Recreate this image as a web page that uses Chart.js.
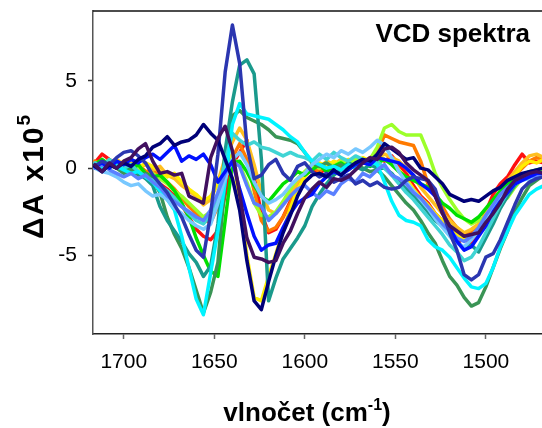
<!DOCTYPE html>
<html>
<head>
<meta charset="utf-8">
<script src="https://cdn.jsdelivr.net/npm/chart.js@4.4.1/dist/chart.umd.min.js"></script>
<style>
  body { margin: 0; background: #fff; }
  canvas { display: block; }
</style>
</head>
<body>
<canvas id="vcd" width="542" height="428"></canvas>
<script>
// wavenumber grid (cm-1), same for every spectrum
const wavenumbers = [
  1716, 1712, 1708, 1704, 1700, 1696, 1692, 1688, 1684, 1680,
  1676, 1672, 1668, 1664, 1660, 1656, 1652, 1648, 1644, 1640,
  1636, 1632, 1628, 1624, 1620, 1616, 1612, 1608, 1604, 1600,
  1596, 1592, 1588, 1584, 1580, 1576, 1572, 1568, 1564, 1560,
  1556, 1552, 1548, 1544, 1540, 1536, 1532, 1528, 1524, 1520,
  1516, 1512, 1508, 1504, 1500, 1496, 1492, 1488, 1484, 1480,
  1476, 1472, 1468
];

const xTickValues = [1700, 1650, 1600, 1550, 1500];
const yTickValues = [-5, 0, 5];

// dA x 10^5
const spPurple = [
  0.2, -0.2, 0.3, 0.0, 0.4, 0.6, 1.1, 1.4, 0.4, -0.3,
  -0.2, -0.4, -0.3, -1.6, -1.8, -2.0, 0.6, 1.7, 2.4, 1.0,
  -1.5, -4.0, -5.1, -5.2, -5.4, -5.3, -4.3, -3.6, -2.6, -1.7,
  -1.2, -0.8, -1.1, -0.6, -0.7, -0.5, -0.1, 0.3, 0.6, 0.5,
  1.1, 1.2, 0.9, 0.3, -0.1, -0.4, -0.7, -1.6, -2.6, -3.3,
  -3.6, -3.9, -3.8, -3.7, -3.1, -2.6, -2.0, -1.2, -0.7, -0.5,
  -0.3, -0.2, -0.3
];
const spNavy = [
  0.1, -0.2, 0.2, 0.0, 0.3, 0.1, 0.5, 0.7, 1.2, 1.4,
  1.8, 1.3, 1.5, 1.6, 1.9, 2.5, 2.0, 1.6, 0.5, -0.6,
  -2.4, -5.3, -7.6, -8.1, -6.5, -5.0, -3.7, -2.7, -1.6, -0.8,
  -0.4, -0.3, -0.5, -0.1, -0.4, 0.0, 0.3, 0.5, 0.4, 0.8,
  1.4, 1.1, 0.8, 0.5, 0.6, 0.0, -0.1, -0.5, -0.9, -1.5,
  -1.7, -1.9, -1.8, -1.9, -1.6, -1.3, -1.1, -0.7, -0.5, -0.3,
  -0.2, -0.1, 0.0
];
const spMidBlue = [
  0.1, 0.4, 0.2, 0.6, 0.9, 1.0, 0.7, 0.3, -0.4, -0.9,
  -1.4, -2.1, -2.8, -3.8, -4.7, -5.1, -2.6, 0.8, 5.5, 8.2,
  6.0, 1.3, -0.6, -0.4, 0.2, 0.5, -0.3, -0.7, 0.1, 0.3,
  -0.2, -0.5, -0.3, -0.8, -0.6, -0.4, -0.9, -0.7, -1.0, -0.8,
  -1.1, -1.2, -1.1, -0.7, -0.5, -0.6, -0.7, -1.2, -2.5, -3.7,
  -4.7, -6.1, -6.4, -6.1, -5.1, -4.9, -4.1, -3.1, -2.1, -1.2,
  -0.8, -0.6, -0.5
];
const spBlue = [
  0.1, 0.3, 0.0, 0.4, 0.2, 0.5, 0.3, 0.6, 0.8, 0.5,
  0.9, 1.3, 0.4, 0.7, 0.5, 0.8, 0.2, -0.8, -0.2, 0.4,
  -1.2, -2.6, -3.9, -4.7, -4.4, -4.3, -3.4, -2.6, -2.0, -1.7,
  -1.5, -0.9, -0.5, -0.2, -0.4, -0.1, 0.2, 0.3, 0.2, 0.6,
  0.5, 0.4, 0.3, 0.0, -0.4, -0.9, -1.2, -1.6, -2.5, -3.4,
  -4.2, -4.7, -4.5, -3.9, -3.3, -2.5, -1.9, -1.4, -0.9, -0.7,
  -0.5, -0.3, -0.3
];
const spCornflower = [
  0.0, 0.2, -0.1, -0.3, -0.5, -0.3, -0.6, -0.4, -0.8, -1.1,
  -1.6, -1.9, -2.2, -2.5, -2.8, -3.0, -2.4, -1.4, -0.3, 0.4,
  0.1, -1.0, -2.0, -2.2, -3.0, -2.6, -2.1, -1.6, -1.2, -1.0,
  -1.4, -1.7, -1.3, -1.5, -0.9, -0.6, -0.8, -0.3, -0.5, -0.1,
  0.2, -0.4, -0.6, -0.9, -1.4, -1.7, -2.2, -2.7, -3.2, -3.6,
  -4.0, -4.2, -3.9, -3.4, -2.7, -2.1, -1.5, -1.1, -0.8, -0.6,
  -0.4, -0.5, -0.3
];
const spSky = [
  0.0, -0.2, -0.3, -0.5, -0.8, -1.0, -0.9, -1.3, -1.6, -1.5,
  -1.8, -2.3, -2.6, -3.0, -3.3, -3.5, -3.2, -2.0, -0.6, 0.5,
  0.9, 0.2, -0.8, -1.6, -2.0, -1.8, -1.5, -1.0, -0.6, -0.3,
  0.2, 0.5, 0.8, 0.6, 1.0, 0.8, 1.1, 0.9, 1.2, 1.6,
  1.3, 0.6, -0.2, -0.8, -1.3, -1.8, -2.3, -2.9, -3.4, -3.9,
  -4.3, -4.5, -4.1, -3.6, -2.9, -2.2, -1.6, -1.2, -0.9, -0.7,
  -0.6, -0.4, -0.5
];
const spCyan = [
  0.2, 0.0, 0.3, 0.1, -0.1, -0.3, -0.2, -0.5, -0.8, -1.3,
  -1.8, -2.4, -3.9, -5.7, -7.5, -8.4, -6.0, -3.6, -0.8, 2.5,
  3.7, 3.1, 3.0, 2.9, 2.8, 2.5, 2.2, 1.8, 1.5, 0.9,
  0.4, 0.2, 0.0, 0.1, -0.1, 0.2, 0.0, 0.3, 0.4, 0.2,
  -0.8, -1.9, -2.7, -3.0, -3.1, -3.3, -4.1, -4.5, -4.7, -5.1,
  -5.7, -6.3, -6.8, -6.9, -6.6, -5.7, -4.5, -3.6, -2.7, -2.1,
  -1.5, -1.2, -1.0
];
const spTurquoise = [
  0.3, 0.1, 0.5, 0.2, 0.0, 0.2, -0.2, -0.5, -0.7, -1.0,
  -1.3, -1.7, -2.2, -2.6, -3.0, -3.2, -2.7, -1.5, 0.4, 2.0,
  1.6, 1.3, 1.5, 1.2, 1.1, 0.9, 0.7, 0.9, 0.7, 0.6,
  0.4, 0.8, 0.5, 0.9, 0.6, 0.4, 0.7, 0.5, 0.2, 0.4,
  0.0, -0.4, -0.9, -1.4, -1.8, -2.3, -2.8, -3.3, -3.8, -4.4,
  -4.8, -5.3, -5.1, -4.5, -3.7, -2.9, -2.1, -1.4, -0.9, -0.6,
  -0.5, -0.4, -0.3
];
const spTeal = [
  0.2, 0.0, 0.4, 0.2, -0.1, 0.2, -0.3, -0.6, -1.0, -2.2,
  -3.0, -3.6, -4.2, -4.9, -5.4, -6.2, -5.6, -3.2, 1.0, 3.8,
  5.9, 6.2, 5.4, 0.5, -7.6, -6.3, -5.2, -4.6, -4.0, -3.3,
  -2.2, -1.5, -0.9, -0.4, -0.1, 0.3, 0.1, -0.1, 0.2, 0.0,
  0.0, -0.3, -0.8, -1.2, -1.6, -2.0, -2.5, -3.0, -3.3, -3.8,
  -4.2, -4.6, -4.4, -4.8, -4.0, -3.2, -2.3, -1.6, -1.0, -0.6,
  -0.4, -0.2, -0.3
];
const spSeaGreen = [
  0.1, -0.2, 0.2, 0.0, -0.3, -0.1, -0.4, -0.3, -0.7, -1.4,
  -2.8, -3.8, -4.6, -5.7, -7.0, -8.3, -7.1, -5.4, -0.8, 3.0,
  3.3, 2.9, 2.7, 2.5, 2.2, 1.8, 1.7, 1.6, 1.4, 0.9,
  0.3, 0.1, 0.3, 0.0, 0.2, -0.1, 0.2, 0.0, -0.2, -0.1,
  -0.5, -1.0, -1.5, -2.0, -2.4, -3.0, -3.7, -4.3, -5.3, -6.2,
  -6.7, -7.4, -7.9, -7.7, -6.8, -5.7, -4.6, -3.6, -2.5, -1.7,
  -1.0, -0.7, -0.4
];
const spGreen = [
  0.2, 0.5, 0.2, 0.4, 0.1, -0.1, 0.2, -0.3, -0.5, -0.4,
  -0.8, -1.3, -2.0, -2.8, -4.0, -5.0, -5.9, -6.2, -3.0, 0.3,
  0.4, -0.2, -1.0, -1.6, -1.9, -1.4, -0.9, -0.6, -0.2, -0.4,
  -0.1, 0.2, -0.2, 0.1, 0.3, 0.0, 0.2, 0.4, 0.1, 0.3,
  0.5, 0.2, -0.2, -0.5, -0.7, -0.9, -1.1, -1.5, -2.0, -2.3,
  -2.7, -2.9, -3.1, -2.8, -2.3, -1.8, -1.3, -0.9, -0.6, -0.4,
  -0.2, -0.1, 0.0
];
const spChartreuse = [
  0.1, 0.3, 0.0, 0.3, 0.1, -0.2, 0.1, -0.4, -0.3, -0.6,
  -0.9, -1.3, -1.6, -2.0, -2.4, -2.8, -2.5, -1.7, -0.4, 0.6,
  0.2, -0.8, -2.0, -2.7, -2.8, -2.5, -1.9, -1.2, -0.6, -0.2,
  0.2, 0.0, 0.3, 0.1, 0.4, 0.2, 0.5, 0.4, 0.5, 1.2,
  2.3, 2.5, 2.1, 1.9, 1.9, 1.9, 0.9, -0.3, -1.1, -1.8,
  -2.4, -2.9, -3.2, -3.0, -2.8, -2.4, -2.0, -1.7, -1.1, -0.6,
  -0.3, -0.2, 0.0
];
const spYellow = [
  0.2, 0.0, 0.3, 0.1, 0.4, 0.2, 0.0, 0.3, 0.1, -0.2,
  -0.5, -0.3, -0.8, -1.2, -1.5, -1.9, -1.6, -0.9, 0.2, 0.8,
  -1.8, -5.0, -7.4, -7.6, -6.2, -4.9, -3.6, -2.3, -1.2, -0.5,
  0.0, 0.3, 0.1, 0.4, 0.2, 0.5, 0.3, 0.6, 0.4, 0.7,
  0.5, 0.3, -0.1, -0.6, -1.2, -1.7, -2.1, -2.6, -3.0, -3.4,
  -3.8, -4.1, -3.9, -3.5, -2.9, -2.2, -1.6, -1.0, -0.4, 0.1,
  0.4, 0.3, 0.5
];
const spGold = [
  0.1, 0.4, 0.2, 0.5, 0.2, 0.3, 0.0, 0.2, -0.1, 0.1,
  -0.4, -0.6, -1.0, -1.3, -1.6, -2.1, -1.8, -0.8, 0.6, 1.5,
  2.3, 1.6, 0.2, -1.4, -2.4, -2.6, -2.1, -1.5, -0.8, -0.3,
  0.2, 0.0, 0.4, 0.2, 0.5, 0.3, 0.6, 0.4, 0.3, 0.6,
  0.8, 0.6, 0.4, 0.0, -0.5, -1.1, -1.6, -2.1, -2.6, -3.0,
  -3.4, -3.7, -3.5, -3.2, -2.6, -2.0, -1.3, -0.7, -0.2, 0.3,
  0.7, 0.8, 0.6
];
const spOrange = [
  0.4, 0.2, 0.5, 0.1, 0.3, 0.0, 0.2, -0.2, -0.1, -0.5,
  -0.8, -1.2, -1.7, -2.2, -2.6, -3.0, -3.1, -2.2, -0.5, 0.6,
  1.4, 0.5, -1.3, -3.0, -3.6, -3.4, -2.8, -2.0, -1.1, -0.4,
  0.1, -0.2, 0.2, 0.0, 0.3, 0.1, 0.4, 0.3, 0.6, 0.9,
  1.9, 1.7, 1.5, 1.4, 1.3, 0.4, -0.9, -1.6, -2.2, -2.9,
  -3.4, -3.8, -3.7, -3.4, -2.7, -2.0, -1.4, -0.9, -0.4, 0.0,
  0.4, 0.6, 0.5
];
const spRed = [
  0.3, 0.8, 0.5, 0.2, 0.3, 0.1, 0.2, -0.2, -0.5, -0.9,
  -1.2, -1.6, -2.1, -2.8, -3.5, -3.9, -4.1, -3.6, -1.5, 0.2,
  0.9, 1.6, -0.5, -2.6, -3.7, -3.5, -2.8, -1.9, -1.0, -0.4,
  -0.1, -0.3, 0.0, 0.2, 0.1, 0.4, 0.2, 0.5, 0.3, 0.6,
  0.4, 0.7, 0.2, -0.3, -1.0, -1.6, -2.0, -2.6, -3.0, -3.5,
  -4.3, -4.0, -4.4, -3.5, -2.5, -1.5, -0.9, -0.5, 0.2, 0.8,
  0.3, 0.4, 0.3
];

// first listed is drawn on top
const spectra = [spPurple, spNavy, spMidBlue, spBlue, spCornflower, spSky, spCyan, spTurquoise,
  spTeal, spSeaGreen, spGreen, spChartreuse, spYellow, spGold, spOrange, spRed];
const lineColors = ['#41105f', '#000078', '#2b36b0', '#0010ff', '#5a80ff', '#78c8ff', '#00f4ff', '#40d4d4',
  '#1a9a8c', '#3a9455', '#00e000', '#9cff2a', '#ffee00', '#ffbf20', '#ff7a00', '#ff1010'];

const panelTitle = 'VCD spektra';
const xTitle = ['vlnočet (cm', '-1', ')'];
const yTitle = ['ΔA x10', '5', ''];

const FONT = '"Liberation Sans", Arial, sans-serif';
Chart.defaults.font.family = FONT;
Chart.defaults.color = '#000';

function drawSupText(ctx, parts, cx, y, size, supSize, rise) {
  ctx.font = 'bold ' + size + 'px ' + FONT;
  const w0 = ctx.measureText(parts[0]).width;
  const w2 = ctx.measureText(parts[2]).width;
  ctx.font = 'bold ' + supSize + 'px ' + FONT;
  const w1 = ctx.measureText(parts[1]).width;
  let x = cx - (w0 + w1 + w2) / 2;
  ctx.textAlign = 'left';
  ctx.font = 'bold ' + size + 'px ' + FONT;
  ctx.fillText(parts[0], x, y);
  x += w0;
  ctx.font = 'bold ' + supSize + 'px ' + FONT;
  ctx.fillText(parts[1], x, y - rise);
  x += w1;
  ctx.font = 'bold ' + size + 'px ' + FONT;
  ctx.fillText(parts[2], x, y);
}

// top frame line, panel title and axis titles with superscripts
const frameAndTitles = {
  id: 'frameAndTitles',
  afterDraw(chart) {
    const { ctx, chartArea: a } = chart;
    ctx.save();
    ctx.strokeStyle = '#111';
    ctx.lineWidth = 1.5;
    ctx.beginPath();
    ctx.moveTo(a.left, a.top);
    ctx.lineTo(a.right, a.top);
    ctx.stroke();

    ctx.fillStyle = '#000';
    ctx.textBaseline = 'alphabetic';
    ctx.font = 'bold 26px ' + FONT;
    ctx.textAlign = 'right';
    ctx.fillText(panelTitle, a.right - 12, a.top + 31);

    drawSupText(ctx, xTitle, 307, 421, 26, 16, 11);

    ctx.translate(43, 176);
    ctx.rotate(-Math.PI / 2);
    ctx.letterSpacing = '2px';
    drawSupText(ctx, yTitle, 0, 0, 30, 19, 13);
    ctx.restore();
  }
};

new Chart(document.getElementById('vcd'), {
  type: 'line',
  data: {
    labels: wavenumbers,
    datasets: spectra.map((sp, i) => ({
      data: sp.map((v, j) => ({ x: wavenumbers[j], y: v })),
      borderColor: lineColors[i],
      borderWidth: 3.5,
      pointRadius: 0,
      tension: 0,
      fill: false,
      borderJoinStyle: 'round',
      borderCapStyle: 'round'
    }))
  },
  options: {
    responsive: false,
    animation: false,
    devicePixelRatio: 1,
    layout: { padding: { top: 11, right: 0, left: 0, bottom: 0 } },
    plugins: { legend: { display: false }, tooltip: { enabled: false } },
    scales: {
      x: {
        type: 'linear',
        reverse: true,
        min: 1469,
        max: 1717,
        afterBuildTicks: s => { s.ticks = xTickValues.map(v => ({ value: v })); },
        afterFit: s => { s.height = 94; s.paddingLeft = 0; s.paddingRight = 0; },
        grid: { drawOnChartArea: false, drawTicks: true, tickLength: 5, tickColor: '#666', tickWidth: 1.5 },
        border: { display: true, color: '#222', width: 1.5 },
        ticks: { font: { size: 21 }, color: '#000', padding: 11, callback: v => String(v) }
      },
      y: {
        min: -9.5,
        max: 9,
        afterBuildTicks: s => { s.ticks = yTickValues.map(v => ({ value: v })); },
        afterFit: s => { s.width = 93; s.paddingTop = 0; s.paddingBottom = 0; },
        grid: { drawOnChartArea: false, drawTicks: true, tickLength: 5, tickColor: '#333', tickWidth: 1.5 },
        border: { display: true, color: '#555', width: 1.5 },
        ticks: { font: { size: 21 }, color: '#000', padding: 11, callback: v => String(v) }
      }
    }
  },
  plugins: [frameAndTitles]
});
</script>
</body>
</html>
